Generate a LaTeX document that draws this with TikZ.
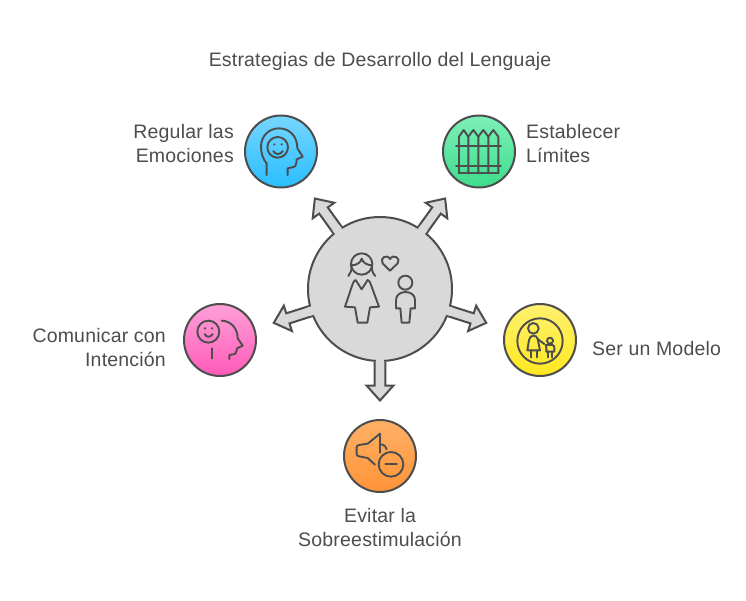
\documentclass[tikz,border=0pt]{standalone}
\usepackage{fontspec}
\setmainfont[LetterSpace=1.0]{Liberation Sans}
\usetikzlibrary{calc}
\definecolor{ink}{HTML}{4D4D4D}
\definecolor{hubfill}{HTML}{D9D9D9}
\tikzset{
  bubble/.style={circle,draw=ink,line width=2pt,minimum size=72pt,inner sep=0pt,shading=axis,shading angle=0},
  hubdisc/.style={circle,draw=ink,fill=hubfill,line width=2pt,minimum size=144pt,inner sep=0pt},
  icon/.style={draw=ink,line width=1.9pt,line cap=round,line join=round},
  label/.style={text=ink,inner sep=0pt,font=\fontsize{19.5}{24}\selectfont},
  arrowline/.style={draw=ink,fill=hubfill,line width=2pt,line join=miter},
}
\newcommand{\blockarrow}[1]{%
  \draw[arrowline]
    ($(hub.center)!72.3pt!(#1.center)!5.3pt!90:(#1.center)$) --
    ($(hub.center)!96.7pt!(#1.center)!5.3pt!90:(#1.center)$) --
    ($(hub.center)!96.7pt!(#1.center)!13.3pt!90:(#1.center)$) --
    ($(hub.center)!111.5pt!(#1.center)$) --
    ($(hub.center)!96.7pt!(#1.center)!13.3pt!-90:(#1.center)$) --
    ($(hub.center)!96.7pt!(#1.center)!5.3pt!-90:(#1.center)$) --
    ($(hub.center)!72.3pt!(#1.center)!5.3pt!-90:(#1.center)$);
  \fill[hubfill]
    ($(hub.center)!68pt!(#1.center)!4.3pt!90:(#1.center)$) --
    ($(hub.center)!76pt!(#1.center)!4.3pt!90:(#1.center)$) --
    ($(hub.center)!76pt!(#1.center)!4.3pt!-90:(#1.center)$) --
    ($(hub.center)!68pt!(#1.center)!4.3pt!-90:(#1.center)$) -- cycle;
}
\begin{document}
\begin{tikzpicture}[x=1pt,y=1pt,yscale=-1]
\useasboundingbox (0,0) rectangle (746,600);
\fill[white] (0,0) rectangle (746,600);

\node[hubdisc] (hub) at (380,289) {};
\node[bubble,top color={rgb,255:red,120;green,214;blue,255},bottom color={rgb,255:red,40;green,190;blue,255}] (reg) at (281,151.5) {};
\node[bubble,top color={rgb,255:red,125;green,240;blue,184},bottom color={rgb,255:red,62;green,220;blue,140}] (lim) at (479,151.5) {};
\node[bubble,top color={rgb,255:red,255;green,160;blue,216},bottom color={rgb,255:red,255;green,90;blue,184}] (com) at (220,340) {};
\node[bubble,top color={rgb,255:red,255;green,241;blue,112},bottom color={rgb,255:red,255;green,232;blue,30}] (mod) at (540,340) {};
\node[bubble,top color={rgb,255:red,255;green,176;blue,102},bottom color={rgb,255:red,255;green,148;blue,56}] (evi) at (380,456) {};

\blockarrow{reg}
\blockarrow{lim}
\blockarrow{com}
\blockarrow{mod}
\blockarrow{evi}

% hub icon
\begin{scope}[shift={(290,190)},scale=1/3]
  \draw[icon] (215,222) circle (32);
  \draw[icon] (184,226) .. controls (200,226) and (212,218) .. (215,206) .. controls (218,218) and (232,226) .. (246,226);
  \draw[icon] (184,226) .. controls (186,240) and (182,250) .. (175,258);
  \draw[icon] (246,226) .. controls (244,240) and (248,250) .. (256,258);
  \draw[icon] (197,270) -- (215,298) -- (233,270) .. controls (238,272) and (240,276) .. (242,282) -- (267,350) -- (240,352) -- (232,398) -- (203,398) -- (195,352) -- (165,350) -- (188,282) .. controls (190,276) and (192,272) .. (197,270);
  \draw[icon] (300,242) -- (278,220) .. controls (268,205) and (290,190) .. (300,207) .. controls (310,190) and (334,205) .. (323,220) -- cycle;
  \draw[icon] (346,278) circle (21);
  \draw[icon] (318,355) -- (318,330) .. controls (318,298) and (375,298) .. (375,330) -- (375,355) -- (362,355) -- (358,398) -- (335,398) -- (331,355) -- cycle;
\end{scope}

% regular las emociones
\begin{scope}[shift={(235,105)},scale=1/3]
  \draw[icon] (95,210) -- (95,175) .. controls (85,165) and (78,145) .. (78,125) .. controls (78,92) and (103,70) .. (132,70) .. controls (165,70) and (187,95) .. (187,130) -- (203,155) -- (185,163) -- (184,175) .. controls (183,183) and (178,187) .. (172,187) -- (158,190) -- (158,210);
  \draw[icon] (128,127) circle (31);
  \fill[ink] (118,118) circle (3.5) (140,118) circle (3.5);
  \draw[icon] (115,138) .. controls (120,150) and (138,150) .. (143,138);
\end{scope}

% establecer limites
\begin{scope}[shift={(435,105)},scale=1/3]
  \draw[icon] (72,205) -- (72,95) -- (86,75) -- (100,95) -- (100,205);
  \draw[icon] (100,95) -- (115,75) -- (130,95) -- (130,205);
  \draw[icon] (130,95) -- (145,75) -- (160,95) -- (160,205);
  \draw[icon] (160,95) -- (175,75) -- (190,95) -- (190,205);
  \draw[icon] (72,205) -- (190,205);
  \draw[icon] (63,122) -- (198,122);
  \draw[icon] (63,182) -- (198,182);
\end{scope}

% comunicar con intencion
\begin{scope}[shift={(175,295)},scale=1/3]
  \draw[icon] (100,110) circle (33);
  \fill[ink] (90,100) circle (3.5) (111,100) circle (3.5);
  \draw[icon] (89,117) .. controls (94,128) and (107,128) .. (113,117);
  \draw[icon] (110,160) -- (110,190);
  \draw[icon] (140,77) .. controls (168,78) and (188,100) .. (188,130) -- (203,152) -- (186,160) -- (184,170) .. controls (183,176) and (179,178) .. (175,178) -- (163,180) -- (163,192);
\end{scope}

% ser un modelo
\begin{scope}[shift={(495,295)},scale=1/3]
  \draw[icon] (135,138) circle (68);
  \draw[icon] (115,100) circle (16);
  \draw[icon] (97,166) -- (102,135) .. controls (105,118) and (125,118) .. (128,132) -- (135,166) -- cycle;
  \draw[icon] (108,166) -- (108,187) (125,166) -- (125,187);
  \draw[icon] (128,132) -- (148,147);
  \draw[icon] (165,137) circle (9);
  \draw[icon] (152,150) -- (172,150) .. controls (178,150) and (178,155) .. (178,160) -- (178,170) -- (154,170) -- (154,158) -- cycle;
  \draw[icon] (158,170) -- (158,187) (171,170) -- (171,187);
\end{scope}

% evitar la sobreestimulacion
\begin{scope}[shift={(335,412)},scale=1/3]
  \draw[icon] (120,158) -- (98,138) -- (72,133) .. controls (67,132) and (65,130) .. (65,126) -- (65,106) .. controls (65,102) and (67,100) .. (72,99) -- (98,95) -- (135,65) -- (135,122);
  \draw[icon] (140,97) .. controls (148,99) and (154,104) .. (155,112);
  \draw[icon] (168,157) circle (37);
  \draw[icon] (151,157) -- (186,157);
\end{scope}

% labels
\node[label] (title) at (380,61) {Estrategias de Desarrollo del Lenguaje};
\node[label,anchor=east,align=right] (treg) at (234,144) {Regular las\\Emociones};
\node[label,anchor=west,align=left] (tlim) at (526,144) {Establecer\\Límites};
\node[label,anchor=east,align=right] (tcom) at (166,348) {Comunicar con\\Intención};
\node[label,anchor=west,align=left] (tmod) at (592,348.5) {Ser un Modelo};
\node[label,align=center] (tevi) at (380,528) {Evitar la\\Sobreestimulación};
\end{tikzpicture}
\end{document}
